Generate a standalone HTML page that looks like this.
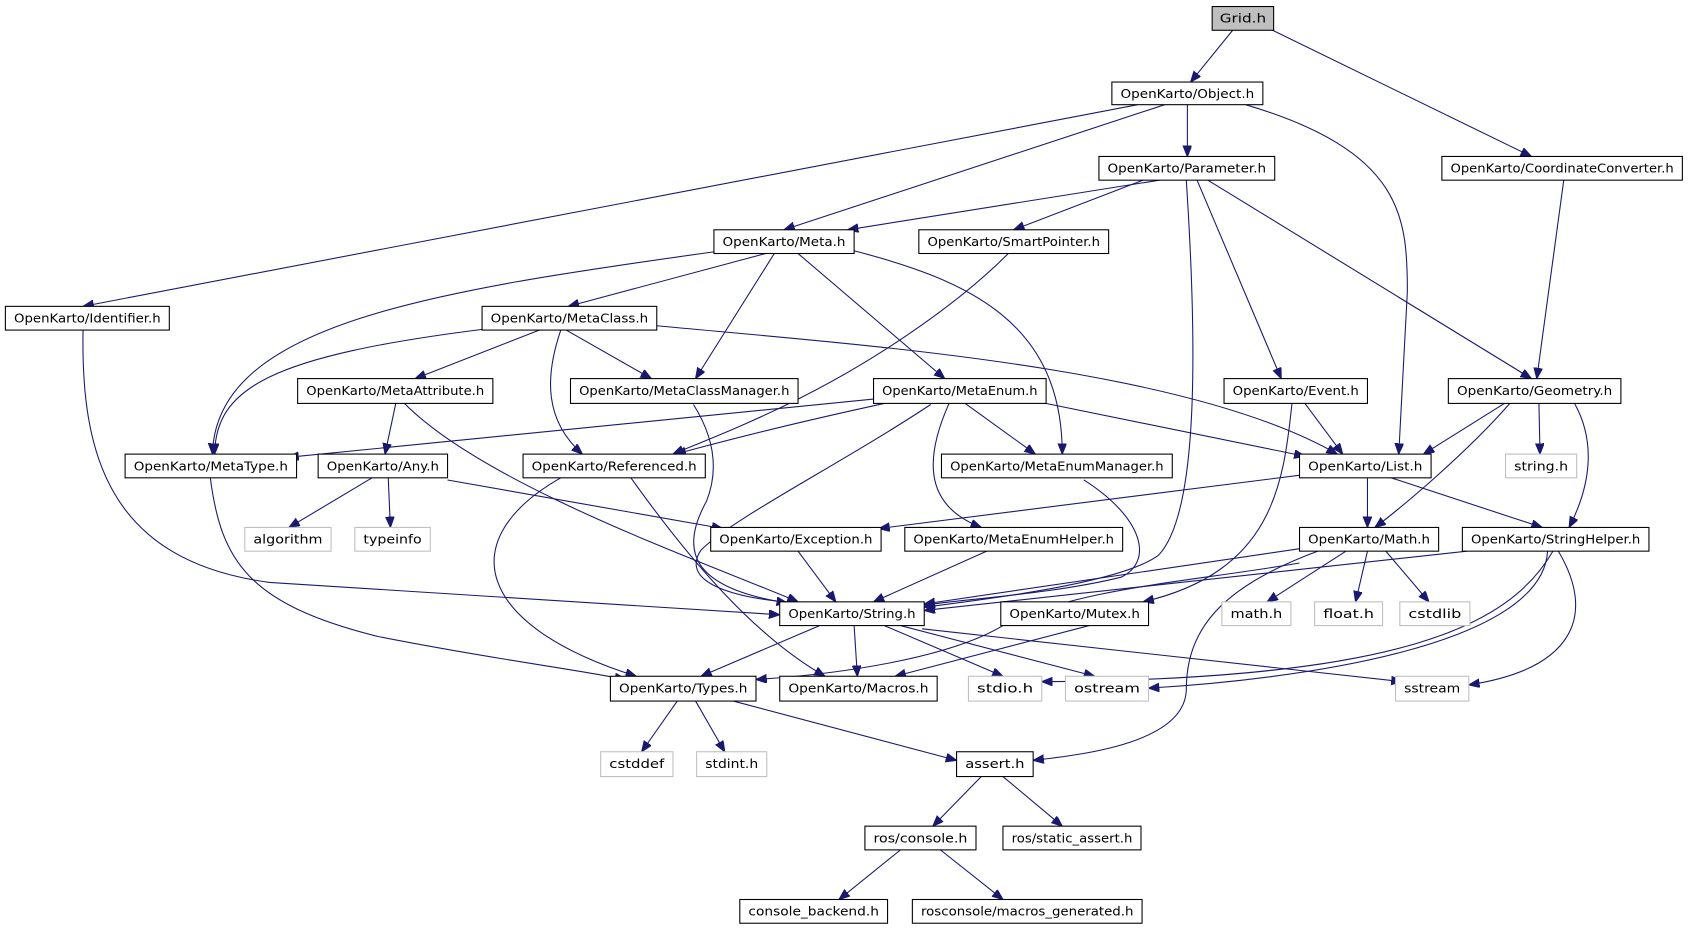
<!DOCTYPE html>
<html><head><meta charset="utf-8"><style>
html,body{margin:0;padding:0;background:#fff;}
svg{display:block;}
text{font-family:"DejaVu Sans","Liberation Sans",sans-serif;font-size:11.3px;fill:#000;}
.n{fill:#fff;stroke:#000;stroke-width:1;}
.g{fill:#fff;stroke:#bfbfbf;stroke-width:1;}
.e{fill:none;stroke:#191970;stroke-width:1;}
</style></head><body>
<svg width="1691" height="933" viewBox="0 0 1568 865" xmlns="http://www.w3.org/2000/svg">
<defs><marker id="a" markerUnits="userSpaceOnUse" markerWidth="12" markerHeight="10" refX="10" refY="4" orient="auto"><path d="M0,0 L10,4 L0,8 z" fill="#191970" stroke="#191970"/></marker></defs>
<g marker-end="url(#a)">
<path class="e" d="M1143,28 L1104,76"/>
<path class="e" d="M1180,28 L1420,145"/>
<path class="e" d="M1101,97 L1101,145"/>
<path class="e" d="M1080,97 L727,213"/>
<path class="e" d="M1055,97 L77,284"/>
<path class="e" d="M1155,97 C1300,140 1305,200 1305,270 L1297,421"/>
<path class="e" d="M1075,167 L786,213"/>
<path class="e" d="M1060,167 L940,213"/>
<path class="e" d="M1100,167 C1112,350 1108,480 1074,515 C1040,540 920,555 857,563"/>
<path class="e" d="M1110,167 L1188,351"/>
<path class="e" d="M1120,167 L1420,351"/>
<path class="e" d="M1450,167 L1425,351"/>
<path class="e" d="M710,235 L527,284"/>
<path class="e" d="M718,235 L645,351"/>
<path class="e" d="M740,235 L876,351"/>
<path class="e" d="M790,232 C900,260 985,300 985,421"/>
<path class="e" d="M665,233 C400,270 200,300 197,421"/>
<path class="e" d="M935,235 C880,290 800,340 740,370 C690,395 650,410 624,421"/>
<path class="e" d="M77,306 C75,420 100,520 250,540 L723,570"/>
<path class="e" d="M450,305 C250,330 200,360 199,421"/>
<path class="e" d="M500,306 L385,351"/>
<path class="e" d="M525,306 L604,351"/>
<path class="e" d="M520,306 C505,350 505,390 540,421"/>
<path class="e" d="M609,302 C800,320 1100,340 1240,421"/>
<path class="e" d="M367,374 L357,421"/>
<path class="e" d="M375,374 C450,450 650,520 740,558"/>
<path class="e" d="M643,375 C665,410 665,440 655,465 C630,510 640,545 730,559"/>
<path class="e" d="M810,370 C600,390 400,410 267,424"/>
<path class="e" d="M820,374 C700,400 650,415 626,421"/>
<path class="e" d="M863,375 C780,430 680,480 650,510 C630,540 680,555 740,559"/>
<path class="e" d="M895,374 L960,421"/>
<path class="e" d="M880,374 C855,430 860,470 910,489"/>
<path class="e" d="M960,372 L1210,423"/>
<path class="e" d="M1210,374 L1245,421"/>
<path class="e" d="M1198,374 C1190,450 1180,530 1060,558"/>
<path class="e" d="M1395,374 L1320,421"/>
<path class="e" d="M1427,374 L1428,421"/>
<path class="e" d="M1400,374 C1360,420 1300,470 1275,489"/>
<path class="e" d="M1460,374 C1480,410 1475,450 1455,489"/>
<path class="e" d="M195,443 C205,520 230,560 350,590 C450,610 530,620 580,630"/>
<path class="e" d="M345,443 L268,489"/>
<path class="e" d="M360,443 L362,489"/>
<path class="e" d="M415,445 L670,490"/>
<path class="e" d="M520,443 C420,500 440,580 590,627"/>
<path class="e" d="M585,443 C640,520 700,590 765,627"/>
<path class="e" d="M1005,445 C1060,480 1070,520 1040,535 C980,550 900,555 857,561"/>
<path class="e" d="M1210,440 L815,490"/>
<path class="e" d="M1268,443 L1268,489"/>
<path class="e" d="M1290,443 L1430,489"/>
<path class="e" d="M740,511 L775,558"/>
<path class="e" d="M915,511 L810,558"/>
<path class="e" d="M1210,508 L857,560"/>
<path class="e" d="M1205,522 C1100,540 1000,545 930,580 C880,610 780,625 701,630"/>
<path class="e" d="M1222,511 C1130,545 1100,585 1100,640 C1098,690 1000,700 958,705"/>
<path class="e" d="M1248,511 L1175,558"/>
<path class="e" d="M1268,511 L1257,558"/>
<path class="e" d="M1285,511 L1325,558"/>
<path class="e" d="M1360,511 L857,566"/>
<path class="e" d="M1440,511 C1400,580 1300,630 966,632"/>
<path class="e" d="M1435,511 C1430,600 1200,630 1065,638"/>
<path class="e" d="M1445,511 C1480,570 1460,620 1362,635"/>
<path class="e" d="M760,580 L650,627"/>
<path class="e" d="M792,580 L795,627"/>
<path class="e" d="M820,580 L930,627"/>
<path class="e" d="M835,580 L1015,627"/>
<path class="e" d="M855,583 L1300,632"/>
<path class="e" d="M1010,580 L830,627"/>
<path class="e" d="M628,650 L595,697"/>
<path class="e" d="M645,650 L672,697"/>
<path class="e" d="M680,650 L887,705"/>
<path class="e" d="M910,720 L865,766"/>
<path class="e" d="M930,720 L985,766"/>
<path class="e" d="M835,788 L778,834"/>
<path class="e" d="M872,788 L930,834"/>
</g>
<g text-anchor="middle">
<rect x="1124" y="6" width="57" height="22" fill="#bfbfbf" stroke="#000"/><text x="1152.5" y="21" textLength="43" lengthAdjust="spacingAndGlyphs">Grid.h</text>
<rect class="n" x="1031" y="76" width="140" height="21"/><text x="1101" y="91" textLength="124" lengthAdjust="spacingAndGlyphs">OpenKarto/Object.h</text>
<rect class="n" x="1019" y="145" width="163" height="22"/><text x="1100.5" y="160" textLength="147" lengthAdjust="spacingAndGlyphs">OpenKarto/Parameter.h</text>
<rect class="n" x="1337" y="145" width="223" height="22"/><text x="1448.5" y="160" textLength="207" lengthAdjust="spacingAndGlyphs">OpenKarto/CoordinateConverter.h</text>
<rect class="n" x="662" y="213" width="130" height="22"/><text x="727" y="228" textLength="114" lengthAdjust="spacingAndGlyphs">OpenKarto/Meta.h</text>
<rect class="n" x="852" y="213" width="176" height="22"/><text x="940" y="228" textLength="160" lengthAdjust="spacingAndGlyphs">OpenKarto/SmartPointer.h</text>
<rect class="n" x="5" y="284" width="152" height="22"/><text x="81" y="299" textLength="136" lengthAdjust="spacingAndGlyphs">OpenKarto/Identifier.h</text>
<rect class="n" x="447" y="284" width="162" height="22"/><text x="528" y="299" textLength="146" lengthAdjust="spacingAndGlyphs">OpenKarto/MetaClass.h</text>
<rect class="n" x="276" y="351" width="181" height="23"/><text x="366.5" y="366" textLength="165" lengthAdjust="spacingAndGlyphs">OpenKarto/MetaAttribute.h</text>
<rect class="n" x="529" y="351" width="211" height="23"/><text x="634.5" y="366" textLength="195" lengthAdjust="spacingAndGlyphs">OpenKarto/MetaClassManager.h</text>
<rect class="n" x="810" y="351" width="160" height="23"/><text x="890" y="366" textLength="144" lengthAdjust="spacingAndGlyphs">OpenKarto/MetaEnum.h</text>
<rect class="n" x="1135" y="351" width="133" height="23"/><text x="1201.5" y="366" textLength="117" lengthAdjust="spacingAndGlyphs">OpenKarto/Event.h</text>
<rect class="n" x="1343" y="351" width="160" height="23"/><text x="1423" y="366" textLength="144" lengthAdjust="spacingAndGlyphs">OpenKarto/Geometry.h</text>
<rect class="n" x="116" y="421" width="159" height="22"/><text x="195.5" y="436" textLength="143" lengthAdjust="spacingAndGlyphs">OpenKarto/MetaType.h</text>
<rect class="n" x="295" y="421" width="120" height="22"/><text x="355" y="436" textLength="104" lengthAdjust="spacingAndGlyphs">OpenKarto/Any.h</text>
<rect class="n" x="485" y="421" width="169" height="22"/><text x="569.5" y="436" textLength="153" lengthAdjust="spacingAndGlyphs">OpenKarto/Referenced.h</text>
<rect class="n" x="873" y="421" width="214" height="22"/><text x="980" y="436" textLength="198" lengthAdjust="spacingAndGlyphs">OpenKarto/MetaEnumManager.h</text>
<rect class="n" x="1205" y="421" width="122" height="22"/><text x="1266" y="436" textLength="106" lengthAdjust="spacingAndGlyphs">OpenKarto/List.h</text>
<rect class="g" x="1396" y="421" width="66" height="22"/><text x="1429" y="436" textLength="50" lengthAdjust="spacingAndGlyphs">string.h</text>
<rect class="g" x="227" y="489" width="80" height="22"/><text x="267" y="504" textLength="64" lengthAdjust="spacingAndGlyphs">algorithm</text>
<rect class="g" x="329" y="489" width="70" height="22"/><text x="364" y="504" textLength="54" lengthAdjust="spacingAndGlyphs">typeinfo</text>
<rect class="n" x="659" y="489" width="158" height="22"/><text x="738" y="504" textLength="142" lengthAdjust="spacingAndGlyphs">OpenKarto/Exception.h</text>
<rect class="n" x="839" y="489" width="202" height="22"/><text x="940" y="504" textLength="186" lengthAdjust="spacingAndGlyphs">OpenKarto/MetaEnumHelper.h</text>
<rect class="n" x="1205" y="489" width="129" height="22"/><text x="1269.5" y="504" textLength="113" lengthAdjust="spacingAndGlyphs">OpenKarto/Math.h</text>
<rect class="n" x="1356" y="489" width="173" height="22"/><text x="1442.5" y="504" textLength="157" lengthAdjust="spacingAndGlyphs">OpenKarto/StringHelper.h</text>
<rect class="n" x="723" y="558" width="134" height="22"/><text x="790" y="573" textLength="118" lengthAdjust="spacingAndGlyphs">OpenKarto/String.h</text>
<rect class="n" x="928" y="558" width="137" height="22"/><text x="996.5" y="573" textLength="121" lengthAdjust="spacingAndGlyphs">OpenKarto/Mutex.h</text>
<rect class="g" x="1133" y="558" width="64" height="22"/><text x="1165" y="573" textLength="48" lengthAdjust="spacingAndGlyphs">math.h</text>
<rect class="g" x="1219" y="558" width="63" height="22"/><text x="1250.5" y="573" textLength="47" lengthAdjust="spacingAndGlyphs">float.h</text>
<rect class="g" x="1298" y="558" width="65" height="22"/><text x="1330.5" y="573" textLength="49" lengthAdjust="spacingAndGlyphs">cstdlib</text>
<rect class="n" x="566" y="627" width="135" height="23"/><text x="633.5" y="642" textLength="119" lengthAdjust="spacingAndGlyphs">OpenKarto/Types.h</text>
<rect class="n" x="723" y="627" width="146" height="23"/><text x="796" y="642" textLength="130" lengthAdjust="spacingAndGlyphs">OpenKarto/Macros.h</text>
<rect class="g" x="898" y="627" width="68" height="23"/><text x="932" y="642" textLength="52" lengthAdjust="spacingAndGlyphs">stdio.h</text>
<rect class="g" x="988" y="627" width="77" height="23"/><text x="1026.5" y="642" textLength="61" lengthAdjust="spacingAndGlyphs">ostream</text>
<rect class="g" x="1294" y="627" width="68" height="23"/><text x="1328" y="642" textLength="52" lengthAdjust="spacingAndGlyphs">sstream</text>
<rect class="g" x="557" y="697" width="67" height="23"/><text x="590.5" y="712" textLength="51" lengthAdjust="spacingAndGlyphs">cstddef</text>
<rect class="g" x="646" y="697" width="65" height="23"/><text x="678.5" y="712" textLength="49" lengthAdjust="spacingAndGlyphs">stdint.h</text>
<rect class="n" x="887" y="697" width="71" height="23"/><text x="922.5" y="712" textLength="55" lengthAdjust="spacingAndGlyphs">assert.h</text>
<rect class="n" x="802" y="766" width="103" height="22"/><text x="853.5" y="781" textLength="87" lengthAdjust="spacingAndGlyphs">ros/console.h</text>
<rect class="n" x="930" y="766" width="128" height="22"/><text x="994" y="781" textLength="112" lengthAdjust="spacingAndGlyphs">ros/static_assert.h</text>
<rect class="n" x="686" y="834" width="137" height="22"/><text x="754.5" y="849" textLength="121" lengthAdjust="spacingAndGlyphs">console_backend.h</text>
<rect class="n" x="846" y="834" width="213" height="22"/><text x="952.5" y="849" textLength="197" lengthAdjust="spacingAndGlyphs">rosconsole/macros_generated.h</text>
</g>
</svg>
</body></html>
